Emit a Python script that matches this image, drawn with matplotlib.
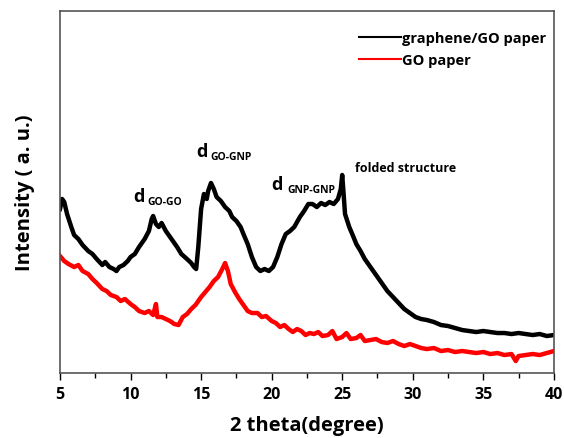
import matplotlib
matplotlib.use('Agg')
import matplotlib.pyplot as plt
from matplotlib.lines import Line2D

plt.rcParams['font.family'] = ['Open Sans', 'DejaVu Sans']
plt.rcParams['font.weight'] = 'bold'

# XRD patterns (intensity in arbitrary units)
two_theta_gg = [5.0, 5.15, 5.3, 5.5, 5.8, 6.0, 6.3, 6.6, 7.0, 7.3, 7.6, 8.0, 8.2, 8.5, 8.8,
                9.0, 9.2, 9.5, 9.8, 10.0, 10.3, 10.6, 11.0, 11.3, 11.5, 11.6, 11.8, 12.0,
                12.2, 12.5, 12.8, 13.0, 13.3, 13.6, 14.0, 14.3, 14.5, 14.65, 14.8, 15.0,
                15.2, 15.4, 15.5, 15.7, 15.9, 16.1, 16.4, 16.7, 17.0, 17.2, 17.5, 17.8,
                18.0, 18.3, 18.6, 18.9, 19.2, 19.5, 19.8, 20.1, 20.4, 20.7, 21.0, 21.3,
                21.6, 22.0, 22.3, 22.6, 22.9, 23.2, 23.5, 23.8, 24.1, 24.4, 24.7, 24.9,
                25.0, 25.1, 25.2, 25.5, 25.8, 26.0, 26.3, 26.6, 27.0, 27.4, 27.8, 28.2,
                28.6, 29.0, 29.4, 29.8, 30.2, 30.6, 31.0, 31.5, 32.0, 32.5, 33.0, 33.5,
                34.0, 34.5, 35.0, 35.5, 36.0, 36.5, 37.0, 37.5, 38.0, 38.5, 39.0, 39.5, 40.0]
intensity_gg = [164, 174, 171, 159, 146, 138, 134, 128, 122, 119, 114, 108, 111, 106, 104,
                102, 106, 108, 112, 116, 119, 126, 134, 142, 154, 157, 149, 146,
                150, 142, 136, 132, 126, 119, 114, 110, 106, 104, 126, 164,
                179, 174, 182, 190, 184, 176, 172, 166, 162, 156, 152, 146,
                139, 129, 116, 106, 102, 104, 102, 106, 116, 129, 139, 142,
                146, 156, 162, 169, 169, 166, 170, 168, 171, 169, 174, 184,
                198, 179, 159, 146, 136, 129, 122, 114, 106, 98, 90, 82,
                76, 70, 64, 60, 56, 54, 53, 51, 48, 47, 45, 43,
                42, 41, 42, 41, 40, 40, 39, 40, 39, 38, 39, 37, 38]

two_theta_go = [5.0, 5.3, 5.6, 6.0, 6.3, 6.6, 7.0, 7.3, 7.6, 8.0, 8.3, 8.6, 9.0, 9.3, 9.6,
                10.0, 10.3, 10.6, 11.0, 11.3, 11.6, 11.8, 11.9, 12.2, 12.5, 12.8, 13.1,
                13.4, 13.7, 14.0, 14.3, 14.6, 15.0, 15.3, 15.6, 15.9, 16.2, 16.5, 16.7,
                16.9, 17.1, 17.4, 17.7, 18.0, 18.3, 18.6, 19.0, 19.3, 19.6, 20.0, 20.3,
                20.6, 20.9, 21.2, 21.5, 21.8, 22.1, 22.4, 22.7, 23.0, 23.3, 23.6, 24.0,
                24.3, 24.6, 25.0, 25.3, 25.6, 26.0, 26.3, 26.6, 27.0, 27.4, 27.8, 28.2,
                28.6, 29.0, 29.4, 29.8, 30.2, 30.6, 31.0, 31.5, 32.0, 32.5, 33.0, 33.5,
                34.0, 34.5, 35.0, 35.5, 36.0, 36.5, 37.0, 37.3, 37.5, 38.0, 38.5, 39.0,
                39.5, 40.0]
intensity_go = [117, 112, 109, 106, 108, 102, 99, 94, 90, 84, 82, 78, 76, 72, 74,
                69, 66, 62, 60, 62, 58, 69, 56, 56, 54, 52, 49,
                48, 56, 59, 64, 68, 76, 81, 86, 92, 96, 104, 110,
                102, 89, 81, 74, 68, 62, 60, 60, 56, 57, 52, 50,
                46, 48, 44, 41, 44, 42, 38, 40, 39, 41, 37, 38,
                42, 34, 36, 40, 34, 35, 38, 32, 33, 34, 31, 30,
                32, 29, 27, 29, 27, 25, 24, 25, 22, 23, 21, 22,
                21, 20, 21, 19, 20, 18, 19, 12, 17, 18, 19, 18,
                20, 22]

labels = ['graphene/GO paper', 'GO paper']

fig = plt.figure(figsize=(5.64, 4.39), dpi=100)
ax = fig.add_axes([0.1064, 0.148, 0.8756, 0.8247])

ax.plot(two_theta_gg, intensity_gg, color='black', lw=3.2)
ax.plot(two_theta_go, intensity_go, color='#ff0000', lw=3.2)

ax.set_xlim(5, 40)
ax.set_ylim(0, 362)
ax.set_xticks([5, 10, 15, 20, 25, 30, 35, 40])
ax.set_xticks([7.5, 12.5, 17.5, 22.5, 27.5, 32.5, 37.5], minor=True)
ax.set_yticks([])
ax.tick_params(axis='x', which='major', length=5, width=1, labelsize=11.5, pad=4)
ax.tick_params(axis='x', which='minor', length=3.5, width=1)
for lab in ax.get_xticklabels():
    lab.set_fontweight('bold')
for sp in ax.spines.values():
    sp.set_color('#555555')
    sp.set_linewidth(1.2)

ax.set_xlabel('2 theta(degree)', fontsize=14.5, fontweight='bold', labelpad=10)
ax.set_ylabel('Intensity ( a. u.)', fontsize=14.5, fontweight='bold', labelpad=18)

# peak annotations
ax.text(10.17, 177, 'd', fontsize=13, fontweight='bold', ha='left', va='center')
ax.text(11.2, 172, 'GO-GO', fontsize=7.5, fontweight='bold', ha='left', va='center')
ax.text(14.64, 222, 'd', fontsize=13, fontweight='bold', ha='left', va='center')
ax.text(15.63, 217, 'GO-GNP', fontsize=7.5, fontweight='bold', ha='left', va='center')
ax.text(20.0, 189, 'd', fontsize=13, fontweight='bold', ha='left', va='center')
ax.text(21.1, 184, 'GNP-GNP', fontsize=7.5, fontweight='bold', ha='left', va='center')
ax.text(25.9, 206, 'folded structure', fontsize=9, fontweight='bold', ha='left', va='center')

handles = [Line2D([], [], color='black', lw=1.5), Line2D([], [], color='#ff0000', lw=1.5)]
ax.legend(handles, labels, loc='upper right', bbox_to_anchor=(1.0, 0.965), frameon=False,
          handlelength=2.9, handletextpad=0.1, borderaxespad=0.1, labelspacing=0.55,
          prop={'weight': 'bold', 'size': 10.5})

fig.savefig('out.png', dpi=100)
